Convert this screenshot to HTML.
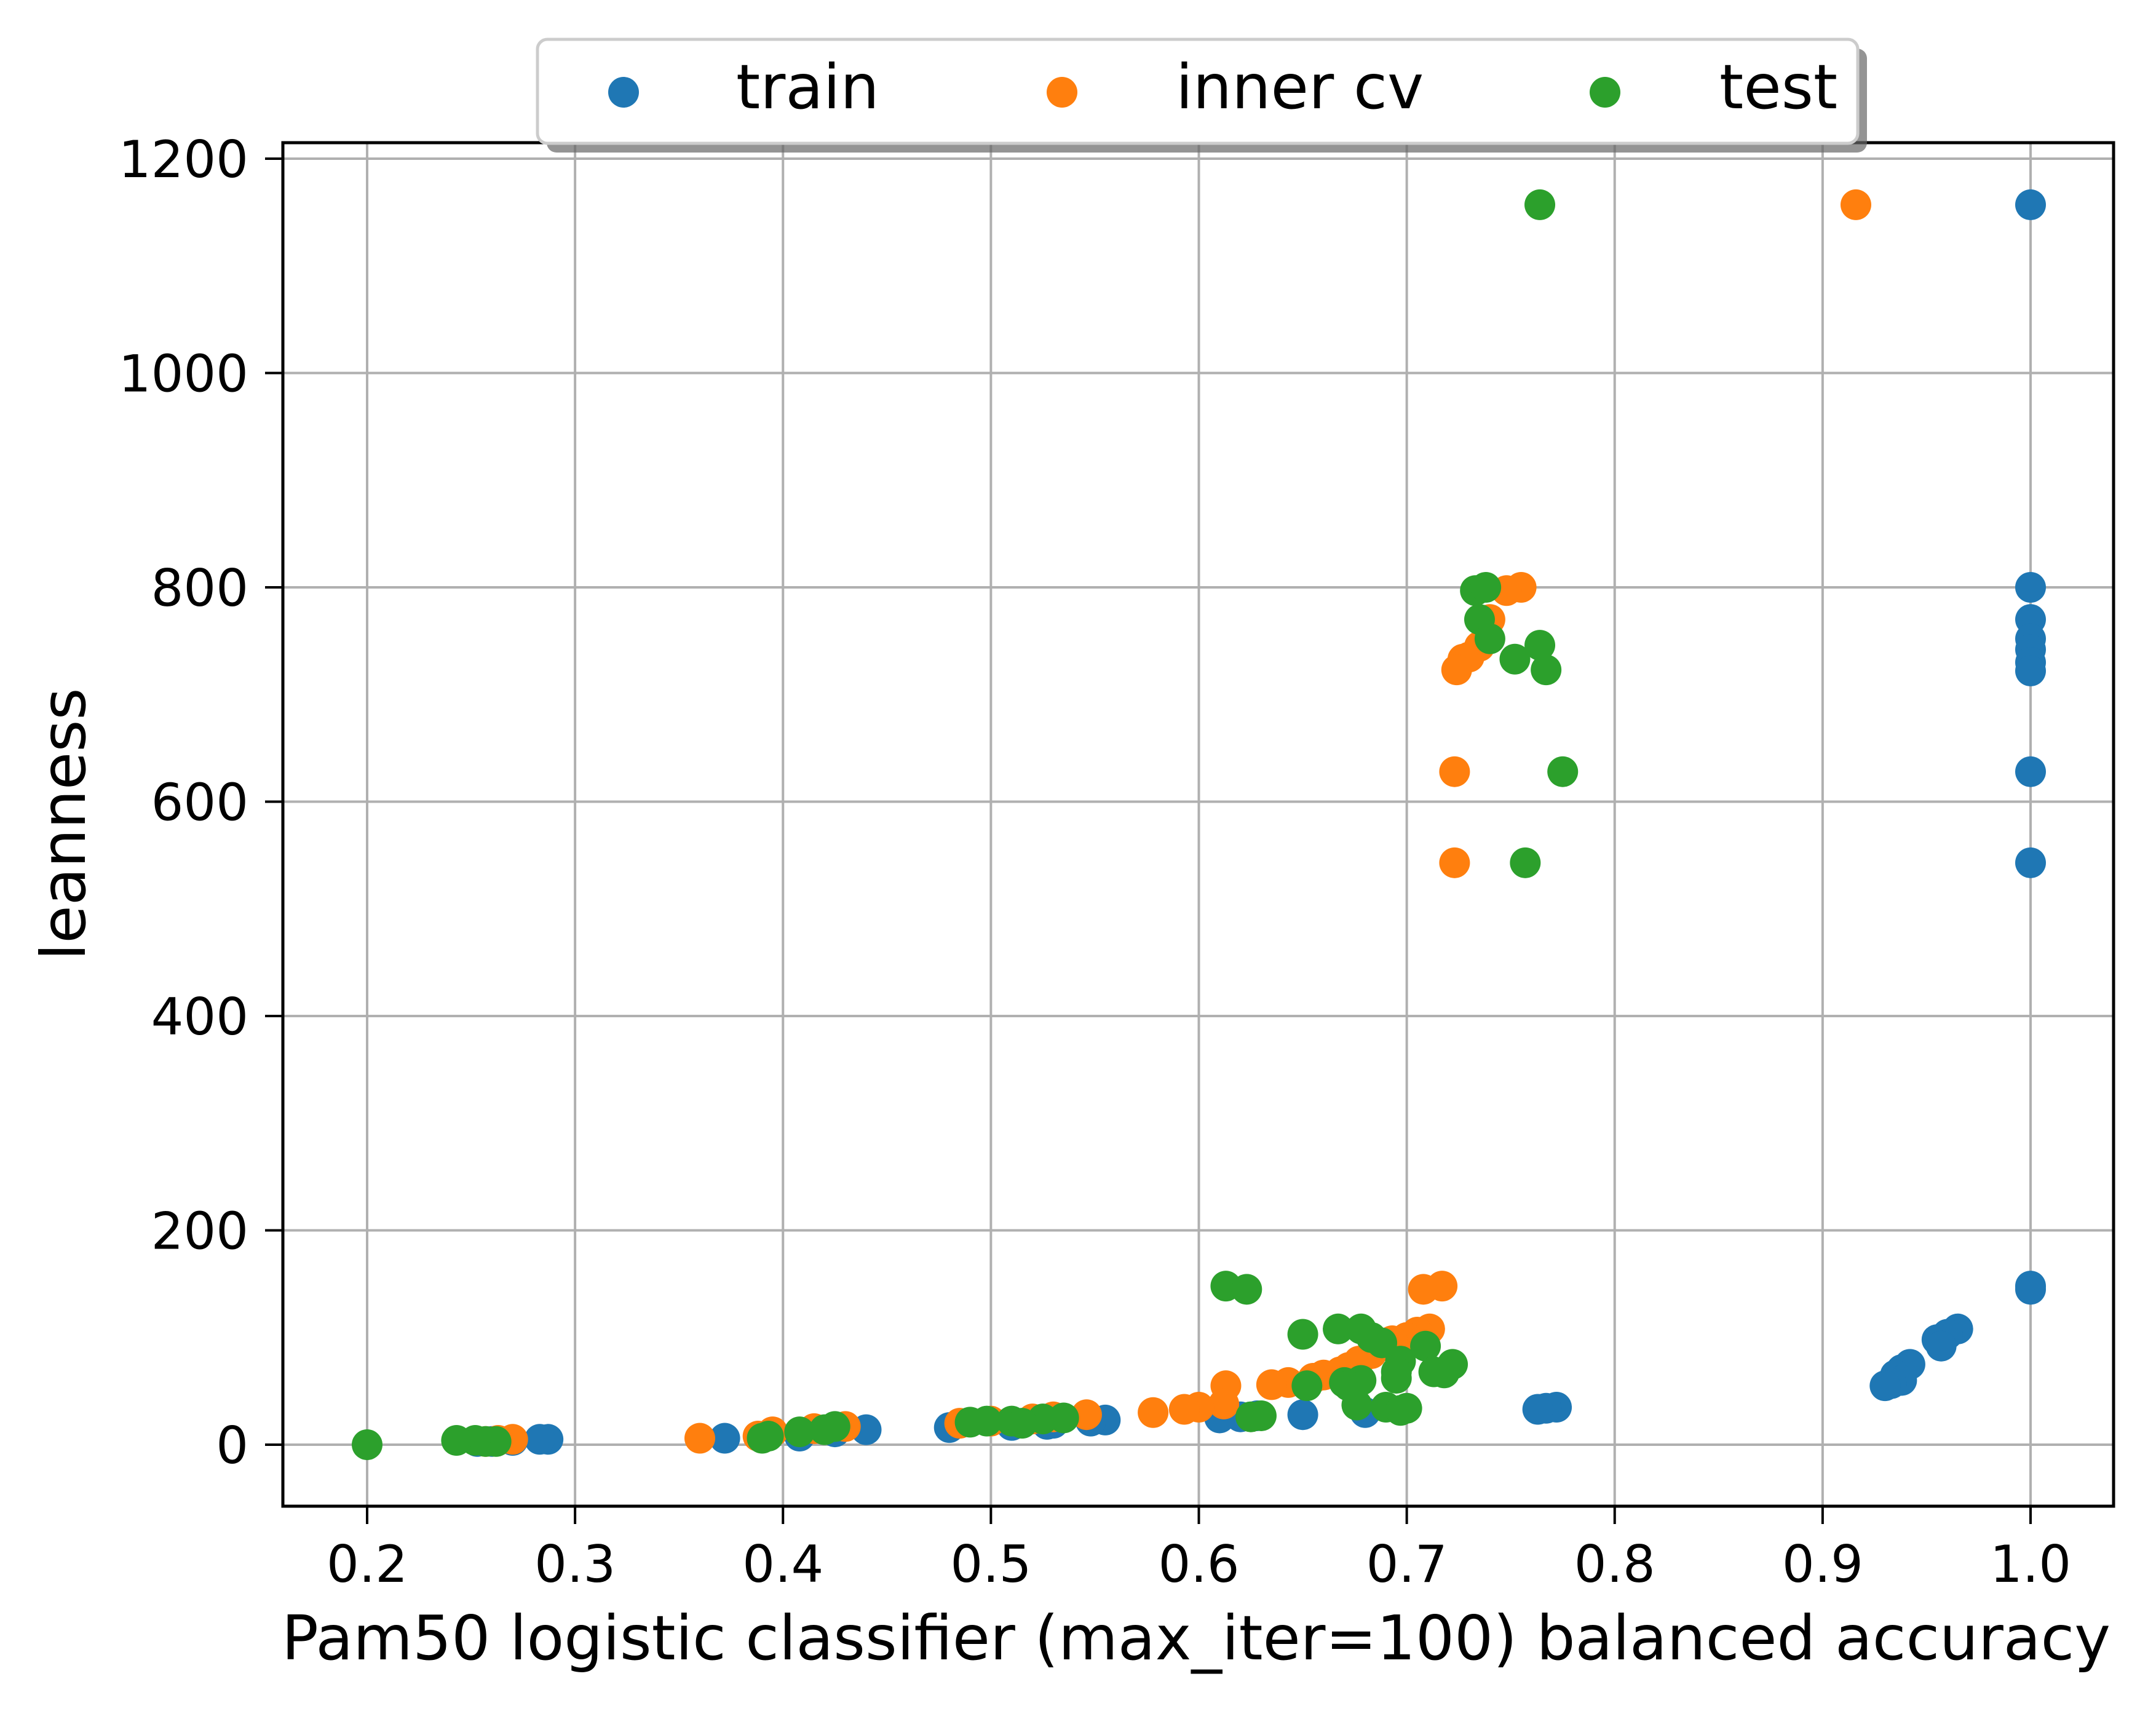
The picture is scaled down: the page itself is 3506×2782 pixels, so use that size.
<!DOCTYPE html>
<html><head><meta charset="utf-8"><style>
body{margin:0;background:#fff}
svg{display:block;font-family:"DejaVu Sans","Liberation Sans",sans-serif}
</style></head><body>
<svg id="chart" width="3506" height="2782" viewBox="0 0 3506 2782">
<g id="grid"></g>
<g id="marks"></g>
<rect x="460" y="232" width="2977" height="2217" fill="none" stroke="#000" stroke-width="5"/>
<g id="ticks"></g>
<text x="1945" y="2698" font-size="100" text-anchor="middle" textLength="2974" lengthAdjust="spacingAndGlyphs">Pam50 logistic classifier (max_iter=100) balanced accuracy</text>
<text x="0" y="0" font-size="100" text-anchor="middle" transform="translate(138,1340) rotate(-90)">leanness</text>
<g>
<rect x="889" y="79" width="2147" height="169" rx="16" fill="#666" opacity="0.7"/>
<rect x="874" y="64" width="2147" height="169" rx="16" fill="#fff" stroke="#ccc" stroke-width="5"/>
<g><circle cx="1014" cy="150" r="25" fill="#1f77b4"/><text x="1197" y="176" font-size="100">train</text></g>
<g><circle cx="1727" cy="150" r="25" fill="#ff7f0e"/><text x="1912" y="176" font-size="100">inner cv</text></g>
<g><circle cx="2610" cy="150" r="25" fill="#2ca02c"/><text x="2796" y="176" font-size="100">test</text></g>
</g>
</svg>
<script>
const xTicks=[0.2,0.3,0.4,0.5,0.6,0.7,0.8,0.9,1.0];
const xTickLabels=["0.2","0.3","0.4","0.5","0.6","0.7","0.8","0.9","1.0"];
const yTicks=[0,200,400,600,800,1000,1200];
const yTickLabels=["0","200","400","600","800","1000","1200"];
const trainX=[1.0,1.0,1.0,1.0,1.0,1.0,1.0,1.0,1.0,1.0,1.0,0.965,0.96,0.955,0.957,0.942,0.938,0.935,0.938,0.933,0.93,0.772,0.767,0.763,0.68,0.65,0.628,0.62,0.61,0.555,0.548,0.53,0.527,0.51,0.48,0.44,0.425,0.408,0.372,0.287,0.283,0.27,0.26,0.253];
const trainY=[1157,800,770,752,742,730,722,628,543,148,145,108,103,98,92,75,70,65,60,57,55,35,34,33,30,28,27,26,25,23,22,20,19,18,16,14,12,8,6,5,5,4,3,3];
const cvX=[0.916,0.755,0.748,0.74,0.735,0.73,0.727,0.724,0.723,0.723,0.717,0.708,0.711,0.705,0.7,0.693,0.688,0.683,0.677,0.672,0.668,0.66,0.655,0.643,0.635,0.613,0.612,0.6,0.593,0.578,0.546,0.53,0.52,0.5,0.485,0.43,0.415,0.395,0.388,0.36,0.27,0.263,0.257];
const cvY=[1157,800,797,770,745,735,733,723,628,543,148,145,108,105,100,97,92,85,78,72,68,65,62,58,56,55,38,35,33,30,28,26,24,22,20,17,15,12,8,6,5,4,3];
const testX=[0.764,0.733,0.738,0.735,0.74,0.752,0.764,0.767,0.775,0.757,0.613,0.623,0.667,0.678,0.683,0.688,0.65,0.709,0.722,0.713,0.718,0.697,0.695,0.695,0.678,0.67,0.652,0.672,0.676,0.69,0.7,0.697,0.63,0.625,0.535,0.525,0.51,0.515,0.498,0.49,0.425,0.42,0.408,0.393,0.39,0.262,0.257,0.252,0.243,0.2];
const testY=[1157,797,800,770,752,733,746,723,628,543,148,145,108,108,100,95,103,92,75,68,67,78,68,62,60,58,55,55,37,35,34,32,27,26,25,24,22,20,22,21,17,14,12,8,6,3,3,4,4,0];

const NS="http://www.w3.org/2000/svg";
const sx=v=>597+(v-0.2)*(3302-597)/0.8;
const sy=v=>2349-v*(2349-258)/1200;
function mk(tag,attrs,parent){const e=document.createElementNS(NS,tag);for(const k in attrs)e.setAttribute(k,attrs[k]);parent.appendChild(e);return e;}
const grid=document.getElementById('grid'),ticks=document.getElementById('ticks'),marks=document.getElementById('marks');
xTicks.forEach((t,i)=>{
  const g=mk('line',{x1:sx(t),x2:sx(t),y1:232,y2:2449,stroke:'#b0b0b0','stroke-width':4},grid);
  
  
  const tk=mk('line',{x1:sx(t),x2:sx(t),y1:2449,y2:2478,stroke:'#000','stroke-width':4},ticks);
  
  
  const tl=mk('text',{x:sx(t),y:2572,'font-size':83,'text-anchor':'middle'},ticks);
  tl.textContent=xTickLabels[i];
  
  
});
yTicks.forEach((t,i)=>{
  const g=mk('line',{x1:460,x2:3437,y1:sy(t),y2:sy(t),stroke:'#b0b0b0','stroke-width':4},grid);
  
  
  const tk=mk('line',{x1:431,x2:460,y1:sy(t),y2:sy(t),stroke:'#000','stroke-width':4},ticks);
  
  
  const tl=mk('text',{x:404,y:sy(t)+30,'font-size':83,'text-anchor':'end'},ticks);
  tl.textContent=yTickLabels[i];
  
  
});
function series(xs,ys,color,name){
  xs.forEach((x,i)=>{
    const c=mk('circle',{cx:sx(x),cy:sy(ys[i]),r:25,fill:color},marks);
    
    
  });
}
series(trainX,trainY,'#1f77b4','train-point');
series(cvX,cvY,'#ff7f0e','inner-cv-point');
series(testX,testY,'#2ca02c','test-point');
</script>
</body></html>
